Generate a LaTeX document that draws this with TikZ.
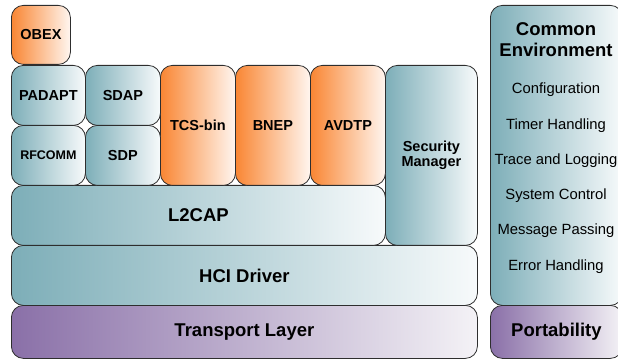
\documentclass[tikz,border=0pt]{standalone}
\usepackage{fontspec}
\setmainfont{Liberation Sans}
\definecolor{tealL}{HTML}{7DAEB8}
\definecolor{tealR}{HTML}{F7FAFB}
\definecolor{orL}{HTML}{F98633}
\definecolor{orR}{HTML}{FFF6F0}
\definecolor{puL}{HTML}{8A70A8}
\definecolor{puR}{HTML}{F4F2F6}
\definecolor{edge}{HTML}{2E2E2E}
\tikzset{
  blk/.style={draw=edge, line width=0.8pt, rounded corners=12pt, anchor=north west,
    inner sep=0pt, align=center, text=black},
  teal/.style={blk, left color=tealL, right color=tealR},
  orng/.style={blk, left color=orL, right color=orR},
  purp/.style={blk, left color=puL, right color=puR},
  small/.style={font=\fontsize{14.5}{16.5}\selectfont\bfseries},
  tiny/.style={font=\fontsize{12.5}{14}\selectfont\bfseries},
  big/.style={font=\fontsize{18.5}{20}\selectfont\bfseries},
  item/.style={font=\fontsize{14.8}{16}\selectfont, anchor=center},
  sz/.style 2 args={minimum width=#1pt, minimum height=#2pt}
}
\begin{document}
\begin{tikzpicture}[x=1pt,y=-1pt]
\useasboundingbox (0,0) rectangle (618,363);
% right column
\node[teal, sz={132}{300}] (common) at (490,5) {};
\node[purp, big, sz={132}{53}] (port) at (490,305) {Portability};
\node[big, align=center, anchor=center] (ctitle) at (556,39.5) {Common\\[1pt]Environment};
\node[item] (cfg) at (556,90) {Configuration};
\node[item] (tmr) at (556,126) {Timer Handling};
\node[item] (trc) at (556,161) {Trace and Logging};
\node[item] (sys) at (556,196) {System Control};
\node[item] (msg) at (556,231) {Message Passing};
\node[item] (err) at (556,267) {Error Handling};
% left stack
\node[purp, big, sz={466}{53}] (trans) at (11,305) {Transport Layer};
\node[teal, big, sz={466}{60}] (hci) at (11,245) {HCI Driver};
\node[teal, big, sz={374}{60}] (l2cap) at (11,185) {L2CAP};
\node[teal, small, sz={92}{180}] (sec) at (385,65) {Security\\[-1pt]Manager};
\node[orng, small, sz={75}{120}] (avdtp) at (310,65) {AVDTP};
\node[orng, small, sz={75}{120}] (bnep) at (235,65) {BNEP};
\node[orng, small, sz={75}{120}] (tcs) at (160,65) {TCS-bin};
\node[teal, small, sz={75}{60}] (sdp) at (85,125) {SDP};
\node[teal, tiny, sz={74}{60}] (rfcomm) at (11,125) {RFCOMM};
\node[teal, small, sz={75}{60}] (sdap) at (85,65) {SDAP};
\node[teal, small, sz={74}{60}] (padapt) at (11,65) {PADAPT};
\node[orng, small, sz={59}{59}] (obex) at (11,5) {OBEX};
\end{tikzpicture}
\end{document}
